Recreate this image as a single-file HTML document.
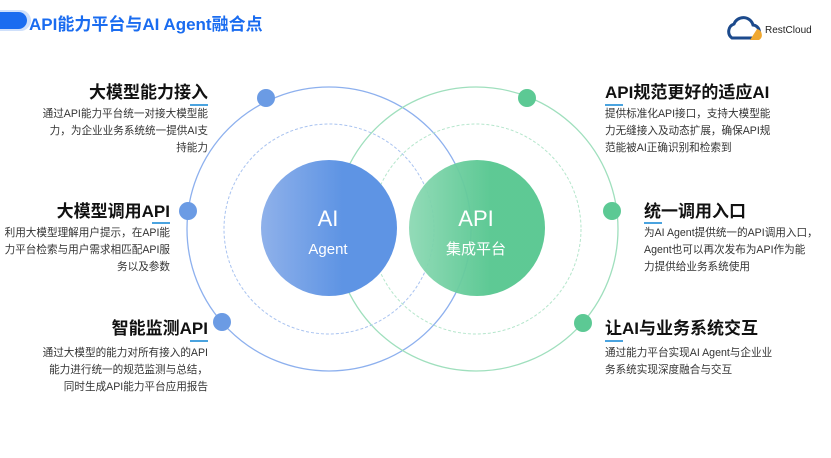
<!DOCTYPE html>
<html><head><meta charset="utf-8"><style>
body{margin:0;width:831px;height:458px;background:#fff;position:relative;overflow:hidden;font-family:"Liberation Sans","Noto Sans CJK SC",sans-serif}
.t{position:absolute;font-weight:bold;font-size:17px;color:#111;white-space:nowrap;line-height:20px}
.d{position:absolute;font-size:10.6px;line-height:17px;color:#333;white-space:nowrap}
.r{text-align:right}
.u{position:absolute;height:2px;width:18px;background:#4aa3df}
</style></head><body>
<div style="position:absolute;left:0;top:12px;width:27px;height:17px;background:#1a6cf0;border-radius:0 9px 9px 0;box-shadow:2px 0 0 2px #cfe0fb"></div>
<div style="position:absolute;left:29px;top:10px;font-size:17px;font-weight:bold;color:#1a6cf0">API能力平台与AI Agent融合点</div>
<svg style="position:absolute;left:726px;top:16px" width="40" height="28"><path d="M6 22 A8 8 0 0 1 8 8 A10 10 0 0 1 27 9 A7 7 0 0 1 30 22 Z" fill="none" stroke="#1c4a8c" stroke-width="3"/><path d="M24 24 L33 24 A6 6 0 0 0 31 13 Z" fill="#f0a830"/></svg>
<div style="position:absolute;left:765px;top:25px;font-size:10px;color:#222">RestCloud</div>
<svg width="831" height="458" style="position:absolute;left:0;top:0">
<defs>
<linearGradient id="gb" x1="0" x2="1"><stop offset="0" stop-color="#8fb1ea"/><stop offset="0.6" stop-color="#5e94e4"/></linearGradient>
<linearGradient id="gg" x1="0" x2="1"><stop offset="0" stop-color="#8dd9b4"/><stop offset="0.6" stop-color="#55c68f"/></linearGradient>
</defs>
<circle cx="329" cy="229" r="142" fill="none" stroke="#8db0ee" stroke-width="1.3"/>
<circle cx="476" cy="229" r="142" fill="none" stroke="#9fdfbd" stroke-width="1.3"/>
<circle cx="329" cy="229" r="105" fill="none" stroke="#a9c3f0" stroke-dasharray="3 2"/>
<circle cx="476" cy="229" r="105" fill="none" stroke="#b5e6cc" stroke-dasharray="3 2"/>
<circle cx="329" cy="228" r="68" fill="url(#gb)"/>
<circle cx="477" cy="228" r="68" fill="url(#gg)" opacity="0.95"/>
<circle cx="266" cy="98" r="9" fill="#6b9be4"/>
<circle cx="188" cy="211" r="9" fill="#6b9be4"/>
<circle cx="222" cy="322" r="9" fill="#6b9be4"/>
<circle cx="527" cy="98" r="9" fill="#5cc994"/>
<circle cx="612" cy="211" r="9" fill="#5cc994"/>
<circle cx="583" cy="323" r="9" fill="#5cc994"/>
<text x="328" y="226" font-size="22" fill="#fff" text-anchor="middle" font-family="Liberation Sans">AI</text>
<text x="328" y="254" font-size="15" fill="#fff" text-anchor="middle" font-family="Liberation Sans">Agent</text>
<text x="476" y="226" font-size="22" fill="#fff" text-anchor="middle" font-family="Liberation Sans">API</text>
<text x="476" y="254" font-size="15" fill="#fff" text-anchor="middle" font-family="Liberation Sans,Noto Sans CJK SC">集成平台</text>
</svg>
<div class="t r" style="right:623px;top:83px">大模型能力接入</div><div class="u" style="left:190px;top:104px"></div>
<div class="d r" style="right:623px;top:106px">通过API能力平台统一对接大模型能<br>力，为企业业务系统统一提供AI支<br>持能力</div>
<div class="t r" style="right:661px;top:202px">大模型调用API</div><div class="u" style="left:152px;top:222px"></div>
<div class="d r" style="right:661px;top:225px">利用大模型理解用户提示，在API能<br>力平台检索与用户需求相匹配API服<br>务以及参数</div>
<div class="t r" style="right:623px;top:319px">智能监测API</div><div class="u" style="left:190px;top:340px"></div>
<div class="d r" style="right:623px;top:345px">通过大模型的能力对所有接入的API<br>能力进行统一的规范监测与总结，<br>同时生成API能力平台应用报告</div>
<div class="t" style="left:605px;top:83px">API规范更好的适应AI</div><div class="u" style="left:605px;top:104px"></div>
<div class="d" style="left:605px;top:106px">提供标准化API接口，支持大模型能<br>力无缝接入及动态扩展，确保API规<br>范能被AI正确识别和检索到</div>
<div class="t" style="left:644px;top:202px">统一调用入口</div><div class="u" style="left:644px;top:222px"></div>
<div class="d" style="left:644px;top:225px">为AI Agent提供统一的API调用入口，<br>Agent也可以再次发布为API作为能<br>力提供给业务系统使用</div>
<div class="t" style="left:605px;top:319px">让AI与业务系统交互</div><div class="u" style="left:605px;top:340px"></div>
<div class="d" style="left:605px;top:345px">通过能力平台实现AI Agent与企业业<br>务系统实现深度融合与交互</div>
</body></html>
